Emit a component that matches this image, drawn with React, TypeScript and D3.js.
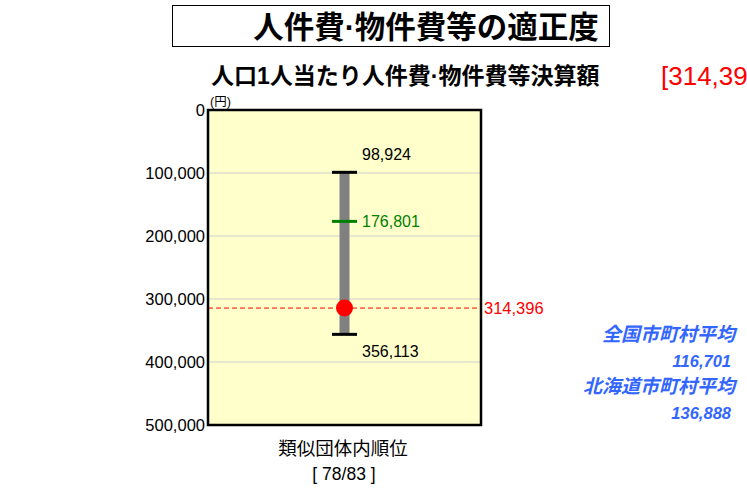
import React from "react";
import * as d3 from "d3";

const yTicks = [0, 100000, 200000, 300000, 400000, 500000];
const rangeMin = [98924];
const rangeMax = [356113];
const median = [176801];
const own = [314396];
const nationalAvg = ["116,701"];
const hokkaidoAvg = ["136,888"];
const rank = ["78/83"];

const W = 747, H = 495;
const plot = { left: 208, right: 481, top: 110, bottom: 425 };
const font = "'Liberation Sans', Arial, 'Noto Sans CJK JP', sans-serif";

export default function App() {
  const y = d3.scaleLinear().domain([0, 500000]).range([plot.top, plot.bottom]);
  const fmt = d3.format(",");
  const cx = 344.5;
  const capW = 25;
  return (
    <svg width={W} height={H} style={{ position: "absolute", left: 0, top: 0 }} fontFamily={font}>
      <rect x={0} y={0} width={W} height={H} fill="#fff" />
      <rect x={172.5} y={5.5} width={437} height={41} fill="#fff" stroke="#000" strokeWidth={1} />
      <text x={426} y={38} textAnchor="middle" fontSize={30.5} fontWeight="bold" fill="#000">人件費·物件費等の適正度</text>
      <text x={211} y={84} fontSize={23} fontWeight="bold" fill="#000">人口1人当たり人件費·物件費等決算額</text>
      <text x={661} y={85} fontSize={26} fill="#ff0000">[{fmt(own[0])}]</text>
      <rect x={plot.left} y={plot.top} width={plot.right - plot.left} height={plot.bottom - plot.top} fill="#ffffcc" />
      {yTicks.map((t) => (
        <g key={t}>
          {t > 0 && t < 500000 && (
            <line x1={plot.left} x2={plot.right} y1={y(t)} y2={y(t)} stroke="#d0d0d0" strokeWidth={1} />
          )}
          <text x={205} y={y(t) + 6} textAnchor="end" fontSize={16.5} fill="#000">{fmt(t)}</text>
        </g>
      ))}
      <text x={210} y={106} fontSize={12.5} fill="#000">(円)</text>
      <rect x={cx - 5} y={y(rangeMin[0])} width={10} height={y(rangeMax[0]) - y(rangeMin[0])} fill="#808080" />
      <line x1={cx - capW / 2} x2={cx + capW / 2} y1={y(rangeMin[0])} y2={y(rangeMin[0])} stroke="#000" strokeWidth={3} />
      <line x1={cx - capW / 2} x2={cx + capW / 2} y1={y(rangeMax[0])} y2={y(rangeMax[0])} stroke="#000" strokeWidth={3} />
      <line x1={cx - capW / 2} x2={cx + capW / 2} y1={y(median[0])} y2={y(median[0])} stroke="#008000" strokeWidth={3} />
      <text x={362} y={y(rangeMin[0]) - 12} fontSize={16} fill="#000">{fmt(rangeMin[0])}</text>
      <text x={362} y={y(median[0]) + 6} fontSize={16} fill="#008000">{fmt(median[0])}</text>
      <text x={362} y={y(rangeMax[0]) + 23} fontSize={16} fill="#000">{fmt(rangeMax[0])}</text>
      <line x1={plot.left} x2={plot.right} y1={y(own[0])} y2={y(own[0])} stroke="#ff0000" strokeWidth={1} strokeDasharray="5,3" />
      <circle cx={cx} cy={y(own[0])} r={8.5} fill="#ff0000" />
      <text x={484} y={y(own[0]) + 6} fontSize={16.5} fill="#ff0000">{fmt(own[0])}</text>
      <rect x={plot.left} y={plot.top} width={plot.right - plot.left} height={plot.bottom - plot.top} fill="none" stroke="#000" strokeWidth={2.5} />
      <text x={343} y={455} textAnchor="middle" fontSize={18.5} fill="#000">類似団体内順位</text>
      <text x={344} y={480} textAnchor="middle" fontSize={17.5} fill="#000">[ {rank[0]} ]</text>
      <g fontWeight="bold" fontStyle="italic" fill="#3366ff" textAnchor="end">
        <text x={735} y={341} fontSize={19}>全国市町村平均</text>
        <text x={731} y={367} fontSize={16.5}>{nationalAvg[0]}</text>
        <text x={735} y={393} fontSize={19}>北海道市町村平均</text>
        <text x={731} y={419} fontSize={16.5}>{hokkaidoAvg[0]}</text>
      </g>
    </svg>
  );
}
